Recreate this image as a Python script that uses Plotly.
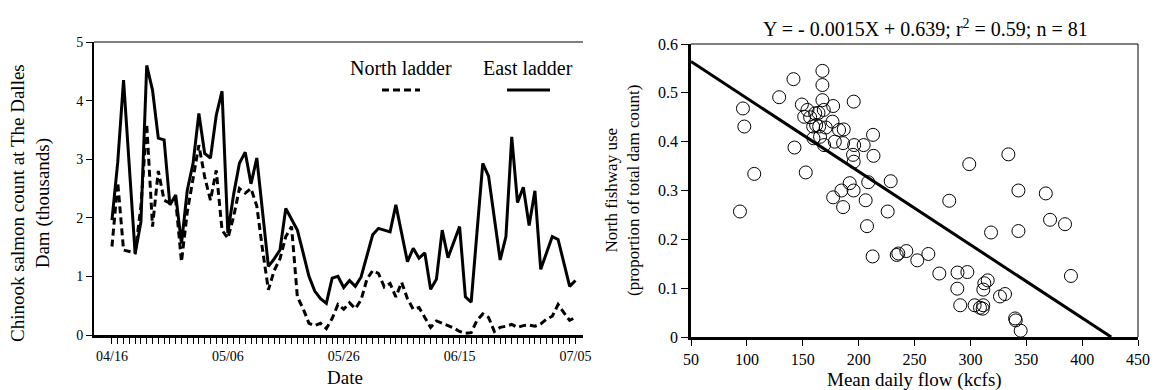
import pandas as pd
import plotly.graph_objects as go

# ---------------- data ----------------
start_date = "2000-04-16"
n_days = 81
east_ladder = [1.96, 2.95, 4.35, 2.85, 1.39, 1.93, 4.60, 4.18, 3.36, 3.33,
               2.22, 2.39, 1.56, 2.47, 2.93, 3.78, 3.10, 3.02, 3.75, 4.16,
               1.74, 2.40, 2.93, 3.12, 2.58, 3.02, 2.10, 1.17, 1.30, 1.45,
               2.16, 1.98, 1.79, 1.40, 1.00, 0.75, 0.62, 0.54, 0.97, 1.00,
               0.81, 0.93, 0.83, 0.99, 1.35, 1.71, 1.82, 1.79, 1.76, 2.22,
               1.75, 1.25, 1.48, 1.31, 1.40, 0.78, 0.95, 1.79, 1.32, 1.58,
               1.85, 0.65, 0.56, 1.75, 2.93, 2.71, 2.00, 1.28, 1.68, 3.38,
               2.26, 2.52, 1.87, 2.46, 1.12, 1.40, 1.68, 1.63, 1.23, 0.83,
               0.93]
north_ladder = [1.51, 2.60, 1.45, 1.42, 1.40, 2.20, 3.60, 1.85, 2.80, 2.30,
                2.25, 2.30, 1.25, 2.10, 2.70, 3.24, 2.70, 2.30, 2.81, 1.79,
                1.65, 2.02, 2.50, 2.42, 2.50, 2.20, 1.45, 0.77, 1.10, 1.30,
                1.68, 1.85, 0.65, 0.45, 0.20, 0.16, 0.20, 0.11, 0.28, 0.52,
                0.44, 0.55, 0.45, 0.60, 0.95, 1.10, 1.05, 0.82, 0.88, 0.65,
                0.90, 0.62, 0.44, 0.47, 0.30, 0.13, 0.24, 0.20, 0.16, 0.12,
                0.06, 0.03, 0.04, 0.25, 0.36, 0.30, 0.06, 0.13, 0.15, 0.18,
                0.13, 0.16, 0.17, 0.15, 0.19, 0.27, 0.32, 0.52, 0.38, 0.25,
                0.30]
date_tick_labels = ["04/16", "05/06", "05/26", "06/15", "07/05"]
label_every = 20

mean_flow = [93.8, 96.5, 97.7, 106.6, 128.9, 141.7, 142.6, 152.7, 149.2, 151.3,
             154.2, 156.6, 161.1, 164.1, 162.0, 159.6, 164.7, 167.6, 167.6, 167.6,
             168.8, 170.6, 169.1, 177.2, 176.6, 178.7, 182.5, 186.7, 186.1, 195.6,
             196.0, 195.0, 195.6, 204.5, 212.9, 213.3, 208.6, 192.0, 195.5, 184.6,
             177.2, 186.1, 206.3, 207.5, 212.5, 228.7, 226.0, 234.1, 235.5, 242.7,
             252.5, 262.4, 272.2, 281.1, 288.5, 297.3, 288.3, 290.9, 299.0, 303.8,
             308.6, 311.0, 311.5, 311.6, 312.5, 315.5, 318.5, 326.5, 331.0, 334.0,
             340.0, 340.6, 345.0, 343.0, 343.0, 367.5, 371.3, 384.7, 390.0, 159.3,
             165.5]
north_prop = [0.257, 0.468, 0.431, 0.334, 0.491, 0.528, 0.388, 0.337, 0.476, 0.451,
              0.465, 0.450, 0.458, 0.459, 0.434, 0.407, 0.431, 0.516, 0.545, 0.485,
              0.465, 0.429, 0.393, 0.473, 0.441, 0.400, 0.424, 0.425, 0.397, 0.482,
              0.393, 0.373, 0.359, 0.393, 0.414, 0.371, 0.317, 0.315, 0.300, 0.300,
              0.286, 0.266, 0.280, 0.227, 0.165, 0.319, 0.257, 0.168, 0.171, 0.176,
              0.157, 0.170, 0.130, 0.279, 0.132, 0.133, 0.099, 0.065, 0.354, 0.065,
              0.060, 0.058, 0.065, 0.097, 0.110, 0.116, 0.214, 0.083, 0.088, 0.374,
              0.038, 0.034, 0.013, 0.300, 0.217, 0.294, 0.240, 0.231, 0.125, 0.431,
              0.410]
reg_slope = -0.0015
reg_intercept = 0.639
reg_title = "Y = - 0.0015X + 0.639; r<sup>2</sup> = 0.59; n = 81"

# ---------------- figure ----------------
FONT = "Liberation Serif"
W, H = 1159, 390
dates = pd.date_range(start_date, periods=n_days, freq="D")
daily_text = [date_tick_labels[i // label_every] if i % label_every == 0 else " "
              for i in range(n_days)]

fig = go.Figure()
fig.add_trace(go.Scatter(x=dates, y=north_ladder, mode="lines",
                         line=dict(color="black", width=3, dash="7px,4px"),
                         xaxis="x", yaxis="y", showlegend=False))
fig.add_trace(go.Scatter(x=dates, y=east_ladder, mode="lines",
                         line=dict(color="black", width=3),
                         xaxis="x", yaxis="y", showlegend=False))

reg_x = [50, reg_intercept / -reg_slope]
reg_y = [reg_slope * v + reg_intercept for v in reg_x]
fig.add_trace(go.Scatter(x=reg_x, y=reg_y, mode="lines",
                         line=dict(color="black", width=3),
                         xaxis="x2", yaxis="y2", showlegend=False))
fig.add_trace(go.Scatter(x=mean_flow, y=north_prop, mode="markers",
                         marker=dict(symbol="circle-open", size=13, color="black",
                                     line=dict(width=1, color="black")),
                         xaxis="x2", yaxis="y2", showlegend=False))

x_lo = dates[0] - pd.Timedelta(days=3.1)
x_hi = dates[-1] + pd.Timedelta(days=1.3)

common = dict(ticks="outside", tickwidth=1, tickcolor="black", showline=True,
              linecolor="black", showgrid=False, zeroline=False, automargin=False)

fig.update_layout(
    width=W, height=H,
    margin=dict(l=0, r=0, t=0, b=0),
    paper_bgcolor="white", plot_bgcolor="white",
    font=dict(family=FONT, color="black"),
    xaxis=dict(domain=[94 / W, 583 / W], range=[x_lo, x_hi],
               tickmode="array", tickvals=dates, ticktext=daily_text,
               tickangle=0, ticklen=6, linewidth=2.5,
               tickfont=dict(family=FONT, size=14, color="black"),
               anchor="y", **common),
    yaxis=dict(domain=[55 / H, 348 / H], range=[0, 5],
               tickvals=[0, 1, 2, 3, 4, 5], ticklen=6, linewidth=2,
               tickfont=dict(family=FONT, size=14, color="black"),
               anchor="x", **common),
    xaxis2=dict(domain=[691 / W, 1138 / W], range=[50, 450], dtick=50, tick0=50,
                ticklen=6, linewidth=2.5, tickangle=0,
                tickfont=dict(family=FONT, size=16, color="black"),
                anchor="y2", **common),
    yaxis2=dict(domain=[53 / H, 346 / H], range=[0, 0.6], dtick=0.1,
                ticklen=7, linewidth=2.5,
                tickfont=dict(family=FONT, size=16, color="black"),
                anchor="x2", **common),
)

shapes = [
    dict(type="line", xref="x domain", yref="y domain", x0=0, x1=1, y0=1, y1=1,
         line=dict(color="black", width=1)),
    dict(type="line", xref="x2 domain", yref="y2 domain", x0=0, x1=1, y0=1, y1=1,
         line=dict(color="black", width=1)),
    dict(type="line", xref="x2 domain", yref="y2 domain", x0=1, x1=1, y0=0, y1=1,
         line=dict(color="black", width=1)),
    dict(type="line", xref="paper", yref="paper", x0=382 / W, x1=420 / W,
         y0=1 - 90 / H, y1=1 - 90 / H,
         line=dict(color="black", width=3, dash="7px,4px")),
    dict(type="line", xref="paper", yref="paper", x0=507 / W, x1=550 / W,
         y0=1 - 90 / H, y1=1 - 90 / H,
         line=dict(color="black", width=3)),
]
fig.update_layout(shapes=shapes)


def ann(text, x, y, size, angle=0):
    return dict(text=text, x=x / W, y=1 - y / H, xref="paper", yref="paper",
                showarrow=False, textangle=angle, xanchor="center", yanchor="middle",
                font=dict(family=FONT, size=size, color="black"))


annotations = [
    ann("North ladder", 401, 68, 20),
    ann("East ladder", 528, 68, 20),
    ann("Chinook salmon count at The Dalles<br>Dam (thousands)", 30, 203, 19, -90),
    ann("Date", 345, 377, 19),
    ann("North fishway use<br>(proportion of total dam count)", 622, 190, 17, -90),
    ann("Mean daily flow (kcfs)", 914, 380, 19),
    ann(reg_title, 925, 28, 20),
]
fig.update_layout(annotations=annotations)

fig.write_html("out.html", config={"displayModeBar": False},
               post_script="document.body.style.margin='0';"
                           "document.body.style.overflow='hidden';")
